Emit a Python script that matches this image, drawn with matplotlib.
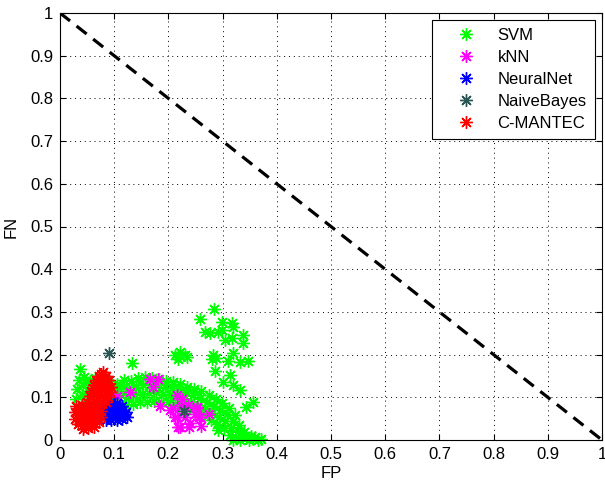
import matplotlib
matplotlib.use("Agg")
import matplotlib.pyplot as plt

plt.rcParams["font.family"] = ["Liberation Sans", "DejaVu Sans"]
plt.rcParams["font.size"] = 12

# SVM: dense band plus scattered outliers
svm_fp = [0.030, 0.032, 0.035, 0.040, 0.042, 0.045, 0.050, 0.052, 0.055, 0.060, 0.062, 0.065,
          0.070, 0.072, 0.075, 0.080, 0.083, 0.086, 0.090, 0.093, 0.096, 0.100, 0.103, 0.106,
          0.110, 0.113, 0.116, 0.119, 0.122, 0.125, 0.128, 0.131, 0.135, 0.138, 0.141, 0.144,
          0.148, 0.151, 0.154, 0.157, 0.161, 0.164, 0.167, 0.170, 0.174, 0.177, 0.180, 0.183,
          0.187, 0.190, 0.193, 0.196, 0.200, 0.203, 0.206, 0.209, 0.213, 0.216, 0.219, 0.222,
          0.226, 0.229, 0.232, 0.235, 0.239, 0.242, 0.245, 0.248, 0.252, 0.255, 0.258, 0.261,
          0.265, 0.268, 0.271, 0.274, 0.278, 0.281, 0.284, 0.287, 0.290, 0.293, 0.296, 0.299,
          0.302, 0.305, 0.308, 0.311, 0.313, 0.316, 0.319, 0.322, 0.320, 0.325, 0.328, 0.331,
          0.332, 0.336, 0.340, 0.344, 0.348, 0.352, 0.356, 0.360, 0.365, 0.370,
          0.037, 0.132, 0.213, 0.222, 0.230, 0.217, 0.235,
          0.284, 0.258, 0.298, 0.317, 0.320, 0.268, 0.277, 0.292, 0.298, 0.304, 0.317, 0.338,
          0.338, 0.283, 0.281, 0.287, 0.310, 0.320, 0.332, 0.347, 0.286, 0.314, 0.301, 0.319,
          0.332, 0.357, 0.344, 0.292]
svm_fn = [0.095, 0.120, 0.140, 0.105, 0.128, 0.148, 0.092, 0.115, 0.138, 0.100, 0.125, 0.145,
          0.090, 0.112, 0.135, 0.095, 0.118, 0.138, 0.088, 0.108, 0.128, 0.092, 0.115, 0.132,
          0.085, 0.105, 0.125, 0.140, 0.082, 0.100, 0.120, 0.138, 0.085, 0.105, 0.125, 0.145,
          0.088, 0.108, 0.128, 0.148, 0.090, 0.110, 0.130, 0.146, 0.092, 0.112, 0.130, 0.142,
          0.090, 0.108, 0.125, 0.138, 0.088, 0.105, 0.122, 0.135, 0.085, 0.102, 0.118, 0.130,
          0.080, 0.097, 0.113, 0.125, 0.074, 0.090, 0.106, 0.120, 0.066, 0.082, 0.098, 0.114,
          0.058, 0.074, 0.090, 0.105, 0.048, 0.064, 0.080, 0.096, 0.038, 0.054, 0.070, 0.086,
          0.028, 0.044, 0.060, 0.074, 0.012, 0.028, 0.044, 0.058, 0.000, 0.005, 0.020, 0.036,
          0.000, 0.008, 0.018, 0.004, 0.000, 0.010, 0.002, 0.006, 0.000, 0.002,
          0.166, 0.180, 0.198, 0.205, 0.200, 0.190, 0.195,
          0.306, 0.283, 0.277, 0.275, 0.265, 0.252, 0.250, 0.252, 0.258, 0.234, 0.238, 0.245,
          0.228, 0.199, 0.190, 0.192, 0.186, 0.204, 0.183, 0.185, 0.162, 0.152, 0.137, 0.129,
          0.117, 0.090, 0.078, 0.023]

knn_fp = [0.166, 0.181, 0.172, 0.129, 0.105, 0.185, 0.215, 0.225, 0.209, 0.216, 0.231,
          0.221, 0.240, 0.252, 0.249, 0.258, 0.261, 0.236, 0.203, 0.213, 0.224, 0.217,
          0.238, 0.253, 0.256, 0.274]
knn_fn = [0.144, 0.142, 0.125, 0.113, 0.103, 0.080, 0.105, 0.097, 0.074, 0.054, 0.054,
          0.031, 0.039, 0.078, 0.062, 0.055, 0.033, 0.083, 0.071, 0.053, 0.080, 0.030,
          0.030, 0.076, 0.053, 0.062]

nnet_fp = [0.075, 0.085, 0.095, 0.105, 0.115, 0.072, 0.082, 0.092, 0.102, 0.112, 0.122,
           0.076, 0.086, 0.096, 0.106, 0.116, 0.124, 0.085, 0.095, 0.105, 0.115,
           0.080, 0.090, 0.100, 0.110, 0.120, 0.090, 0.100, 0.110]
nnet_fn = [0.080, 0.085, 0.088, 0.086, 0.080, 0.068, 0.070, 0.072, 0.072, 0.070, 0.066,
           0.056, 0.058, 0.058, 0.058, 0.056, 0.054, 0.047, 0.046, 0.047, 0.050,
           0.075, 0.079, 0.080, 0.076, 0.061, 0.064, 0.065, 0.063]

nb_fp = [0.091, 0.229]
nb_fn = [0.203, 0.068]

cm_fp = [0.079, 0.072, 0.085, 0.066, 0.078, 0.090, 0.062, 0.074, 0.086, 0.095,
         0.058, 0.070, 0.082, 0.093, 0.055, 0.066, 0.078, 0.088, 0.050, 0.062, 0.074, 0.084,
         0.030, 0.040, 0.050, 0.060, 0.070, 0.027, 0.037, 0.047, 0.057, 0.067, 0.075,
         0.028, 0.038, 0.048, 0.058, 0.068, 0.076, 0.033, 0.043, 0.053, 0.063, 0.072,
         0.042, 0.052, 0.062, 0.076, 0.068, 0.080, 0.060, 0.072, 0.084, 0.035, 0.045,
         0.055, 0.065, 0.032, 0.042, 0.052, 0.062, 0.070]
cm_fn = [0.160, 0.150, 0.150, 0.140, 0.142, 0.140, 0.128, 0.130, 0.130, 0.125,
         0.115, 0.118, 0.118, 0.112, 0.102, 0.105, 0.104, 0.100, 0.090, 0.092, 0.090, 0.088,
         0.080, 0.082, 0.078, 0.080, 0.078, 0.065, 0.068, 0.066, 0.066, 0.064, 0.068,
         0.050, 0.052, 0.050, 0.050, 0.052, 0.054, 0.038, 0.036, 0.038, 0.040, 0.042,
         0.026, 0.027, 0.030, 0.155, 0.135, 0.135, 0.122, 0.124, 0.122, 0.074, 0.073,
         0.072, 0.071, 0.058, 0.058, 0.058, 0.058, 0.060]

series = [
    ("SVM", svm_fp, svm_fn, "#00ff00"),
    ("kNN", knn_fp, knn_fn, "#ff00ff"),
    ("NeuralNet", nnet_fp, nnet_fn, "#0000ff"),
    ("NaiveBayes", nb_fp, nb_fn, "#2b5656"),
    ("C-MANTEC", cm_fp, cm_fn, "#ff0000"),
]

ticks = [i / 10 for i in range(11)]
tick_labels = ["0", "0.1", "0.2", "0.3", "0.4", "0.5", "0.6", "0.7", "0.8", "0.9", "1"]

fig = plt.figure(figsize=(6.05, 4.83), dpi=100)
ax = fig.add_axes([60 / 605, 43 / 483, 542 / 605, 427 / 483])

for name, fp, fn, color in series:
    ax.plot(fp, fn, linestyle="none", marker=(8, 2, 0), markersize=9,
            markeredgewidth=1.0, color=color, label=name, clip_on=False)

ax.plot([0, 1], [1, 0], color="black", linewidth=2.3, dashes=(4, 2.6))

ax.set_xlim(0, 1)
ax.set_ylim(0, 1)
ax.set_xticks(ticks)
ax.set_xticklabels(tick_labels)
ax.set_yticks(ticks)
ax.set_yticklabels(tick_labels)
ax.tick_params(direction="in", top=True, right=True, length=4, width=0.8, pad=5)
ax.grid(True, linestyle=(0, (1, 4)), color="black", linewidth=0.7)
ax.set_axisbelow(True)
for sp in ax.spines.values():
    sp.set_linewidth(0.8)
ax.set_xlabel("FP", labelpad=3)
ax.set_ylabel("FN", labelpad=8)

leg = ax.legend(loc="upper right", bbox_to_anchor=(0.987, 0.984), borderaxespad=0,
                fancybox=False, framealpha=1, edgecolor="black", labelspacing=0.42,
                handletextpad=0.35, borderpad=0.5, handlelength=3.05, numpoints=1)
leg.get_frame().set_linewidth(0.8)

fig.savefig("out.png", dpi=100)
